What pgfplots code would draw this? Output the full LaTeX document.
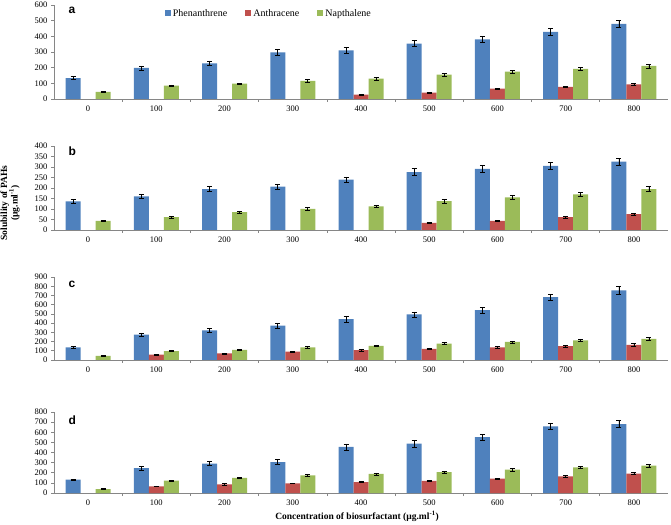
\documentclass[border=0pt]{standalone}
\usepackage{pgfplots}
\pgfplotsset{compat=1.18}
\usepackage{fontspec}
\setmainfont{Liberation Serif}
\newfontfamily\arialb{Liberation Sans}
\definecolor{cBlue}{HTML}{4F81BD}
\definecolor{cRed}{HTML}{C0504D}
\definecolor{cGreen}{HTML}{9BBB59}
\definecolor{axgray}{HTML}{868686}
\pgfplotsset{
 panel/.style={
  scale only axis, width=614pt, anchor=south west,
  xmin=-0.5, xmax=8.5, ymin=0,
  ybar=0pt, bar width=15pt,
  legend image code/.code={\fill[##1] (0pt,-3pt) rectangle (6pt,3pt);},
  axis x line*=bottom, axis y line*=left,
  axis line style={axgray, line width=0.8pt},
  xtick={0,...,8}, xticklabels={0,100,200,300,400,500,600,700,800},
  minor xtick={0.5,1.5,...,7.5},
  major x tick style={draw=none},
  tick style={axgray, line width=0.6pt},
  tick align=outside, major tick length=3pt, minor tick length=3pt,
  ticklabel style={font=\fontsize{8.5}{9}\selectfont},
  /pgf/number format/assume math mode=true,
  clip=false,
 },
 eb/.style={error bars/.cd, y dir=both, y explicit,
   error bar style={black, line width=0.6pt},
   error mark options={rotate=90, mark size=2.5pt, black, line width=0.6pt}},
}
\tikzset{letter/.style={font=\arialb\bfseries\fontsize{12}{12}\selectfont, anchor=base west}}
\begin{document}
\begin{tikzpicture}
\useasboundingbox (0,0) rectangle (671pt,524pt);
% ---------- a ----------
\begin{axis}[panel, at={(54pt,425pt)}, height=94pt, ymax=600, ytick={0,100,...,600},
  legend style={at={(rel axis cs:0.35,0.911)}, anchor=center, draw=none, fill=none,
    legend columns=3, font=\fontsize{10}{11}\selectfont,
    /tikz/every even column/.append style={column sep=16pt}}]
\addplot[fill=cBlue, draw=none, eb] coordinates {
 (0,134) +- (0,10) (1,198) +- (0,13) (2,228) +- (0,15) (3,298) +- (0,18) (4,311) +- (0,17)
 (5,353) +- (0,19) (6,381) +- (0,21) (7,428) +- (0,21) (8,479) +- (0,23)};
\addplot[fill=cRed, draw=none, eb] coordinates {
 (4,28) +- (0,3) (5,40) +- (0,3) (6,66) +- (0,4) (7,77) +- (0,4) (8,94) +- (0,5)};
\addplot[fill=cGreen, draw=none, eb] coordinates {
 (0,45) +- (0,4) (1,85) +- (0,5) (2,98) +- (0,4) (3,115) +- (0,8) (4,130) +- (0,8)
 (5,155) +- (0,9) (6,174) +- (0,10) (7,192) +- (0,12) (8,211) +- (0,12)};
\legend{Phenanthrene,Anthracene,Napthalene}
\node[letter] at (rel axis cs:0.018,0.905) {a};
\end{axis}
% ---------- b ----------
\begin{axis}[panel, at={(54pt,294pt)}, height=84pt, ymax=400, ytick={0,50,...,400}]
\addplot[fill=cBlue, draw=none, eb] coordinates {
 (0,136) +- (0,10) (1,160) +- (0,10) (2,195) +- (0,13) (3,206) +- (0,13) (4,240) +- (0,13)
 (5,276) +- (0,16) (6,291) +- (0,17) (7,305) +- (0,17) (8,326) +- (0,16)};
\addplot[fill=cRed, draw=none, eb] coordinates {
 (5,34) +- (0,2) (6,44) +- (0,3) (7,61) +- (0,3) (8,75) +- (0,4)};
\addplot[fill=cGreen, draw=none, eb] coordinates {
 (0,44) +- (0,3) (1,61) +- (0,3) (2,85) +- (0,5) (3,100) +- (0,7) (4,113) +- (0,6)
 (5,137) +- (0,9) (6,155) +- (0,8) (7,170) +- (0,10) (8,195) +- (0,11)};
\node[letter] at (rel axis cs:0.018,0.883) {b};
\end{axis}
% ---------- c ----------
\begin{axis}[panel, at={(54pt,164pt)}, height=83pt, ymax=900, ytick={0,100,...,900}]
\addplot[fill=cBlue, draw=none, eb] coordinates {
 (0,137) +- (0,8) (1,275) +- (0,18) (2,321) +- (0,22) (3,373) +- (0,24) (4,442) +- (0,29)
 (5,494) +- (0,28) (6,540) +- (0,30) (7,681) +- (0,33) (8,756) +- (0,40)};
\addplot[fill=cRed, draw=none, eb] coordinates {
 (1,59) +- (0,5) (2,72) +- (0,5) (3,92) +- (0,5) (4,108) +- (0,10) (5,121) +- (0,10)
 (6,137) +- (0,10) (7,150) +- (0,8) (8,164) +- (0,13)};
\addplot[fill=cGreen, draw=none, eb] coordinates {
 (0,46) +- (0,4) (1,95) +- (0,5) (2,111) +- (0,8) (3,137) +- (0,8) (4,154) +- (0,8)
 (5,177) +- (0,10) (6,196) +- (0,12) (7,213) +- (0,15) (8,229) +- (0,14)};
\node[letter] at (rel axis cs:0.018,0.873) {c};
\end{axis}
% ---------- d ----------
\begin{axis}[panel, at={(54pt,31pt)}, height=81pt, ymax=800, ytick={0,100,...,800}]
\addplot[fill=cBlue, draw=none, eb] coordinates {
 (0,132) +- (0,6) (1,246) +- (0,17) (2,291) +- (0,19) (3,306) +- (0,23) (4,455) +- (0,29)
 (5,488) +- (0,32) (6,551) +- (0,27) (7,659) +- (0,34) (8,680) +- (0,36)};
\addplot[fill=cRed, draw=none, eb] coordinates {
 (1,66) +- (0,4) (2,84) +- (0,8) (3,96) +- (0,4) (4,108) +- (0,5) (5,120) +- (0,7)
 (6,141) +- (0,5) (7,165) +- (0,10) (8,192) +- (0,10)};
\addplot[fill=cGreen, draw=none, eb] coordinates {
 (0,39) +- (0,3) (1,123) +- (0,5) (2,150) +- (0,6) (3,174) +- (0,8) (4,189) +- (0,10)
 (5,207) +- (0,10) (6,231) +- (0,12) (7,252) +- (0,12) (8,270) +- (0,12)};
\node[letter] at (rel axis cs:0.018,0.85) {d};
\end{axis}
\node[rotate=90, align=center, inner sep=0pt, font=\bfseries\fontsize{9.5}{10.5}\selectfont] at (10pt,321pt)
  {Solubility of PAHs\\(µg.ml\textsuperscript{-1})};
\node[font=\bfseries\fontsize{9.5}{11}\selectfont] at (357pt,8pt)
  {Concentration of biosurfactant (µg.ml\textsuperscript{-1})};
\end{tikzpicture}
\end{document}
